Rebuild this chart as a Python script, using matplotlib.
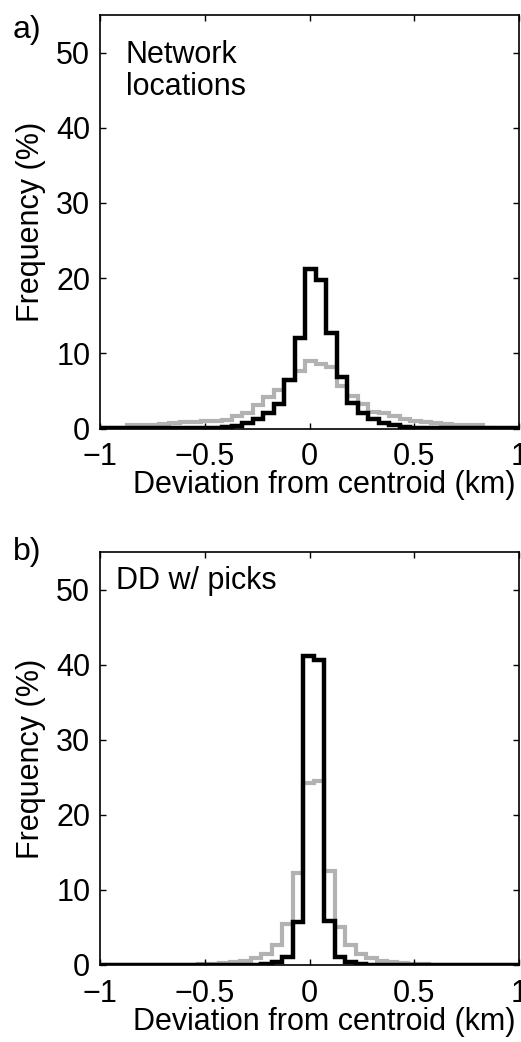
import numpy as np
import matplotlib
matplotlib.use("Agg")
import matplotlib.pyplot as plt

plt.rcParams['font.family'] = ['Liberation Sans', 'DejaVu Sans']

# ---- data ----
bin_width = 0.05
edges_a_start = -1.02
edges_b_start = -1.03

# Panel a: Network locations (41 bins)
net_dd = [0.02, 0.03, 0.03, 0.04, 0.05, 0.05, 0.06, 0.07, 0.08,
          0.09, 0.1, 0.1, 0.2, 0.35, 0.7, 1.2, 2.1, 3.3, 6.4,
          12.1, 21.2, 19.7, 12.7, 6.8, 3.4, 2.1, 1.3, 0.75, 0.4,
          0.2, 0.1, 0.06, 0.04, 0.03, 0.02, 0.02, 0.01, 0.01, 0.01, 0.01, 0.01]
net_cat = [0.05, 0.05, 0.1, 0.4, 0.45, 0.5, 0.6, 0.75, 0.85, 0.9,
           0.95, 1.0, 1.1, 1.6, 2.0, 3.1, 4.2, 5.1, 6.4, 7.7,
           9.0, 8.6, 8.2, 5.6, 4.3, 3.2, 2.2, 2.0, 1.7, 1.3,
           1.0, 0.85, 0.7, 0.55, 0.5, 0.45, 0.4, 0.05, 0.0, 0.0, 0.0]

# Panel b: DD w/ picks (41 bins)
dd_dd = [0.01, 0.01, 0.01, 0.01, 0.01, 0.01, 0.01, 0.01, 0.01, 0.01,
         0.01, 0.01, 0.02, 0.02, 0.03, 0.05, 0.15, 0.4, 1.1, 5.7,
         41.2, 40.6, 5.9, 1.1, 0.4, 0.15, 0.05, 0.03, 0.02, 0.02,
         0.01, 0.01, 0.01, 0.01, 0.01, 0.01, 0.01, 0.01, 0.01, 0.01, 0.01]
dd_cat = [0.0, 0.0, 0.0, 0.0, 0.0, 0.02, 0.03, 0.04, 0.05, 0.06,
          0.1, 0.15, 0.25, 0.35, 0.55, 0.9, 1.5, 2.7, 5.5, 12.3,
          24.2, 24.5, 12.5, 5.1, 2.6, 1.5, 0.9, 0.55, 0.35, 0.25,
          0.15, 0.1, 0.06, 0.05, 0.04, 0.03, 0.02, 0.0, 0.0, 0.0, 0.0]

panel_labels = ['a)', 'b)']
panel_texts = ['Network\nlocations', 'DD w/ picks']
x_ticks = [-1, -0.5, 0, 0.5, 1]
x_ticklabels = ['\u22121', '\u22120.5', '0', '0.5', '1']
y_ticks = [0, 10, 20, 30, 40, 50]
xlabel = 'Deviation from centroid (km)'
ylabel = 'Frequency (%)'

W, H = 521, 1042
fig = plt.figure(figsize=(W / 100, H / 100), dpi=100)

def fx(px):
    return px / W

def fy(py):
    return 1 - py / H

axes_px = [(100, 519, 15, 428.5), (100, 519, 552, 965)]
datasets = [(edges_a_start, net_cat, net_dd), (edges_b_start, dd_cat, dd_dd)]
text_pos = [(126, 40), (116, 566)]
lab_pos = [(27, 30), (27, 552)]

gray = '#b2b2b2'
fs = 22

for k in range(2):
    l, r, t, b = axes_px[k]
    ax = fig.add_axes([fx(l), fy(b), fx(r) - fx(l), fy(t) - fy(b)])
    start, cat, dd = datasets[k]
    n = len(cat)
    edges = start + bin_width * np.arange(n + 1)
    ax.stairs(cat, edges, color=gray, linewidth=3.0, baseline=0)
    ax.stairs(dd, edges, color='black', linewidth=3.2, baseline=0)
    ax.set_xlim(-1, 1)
    ax.set_ylim(0, 55)
    ax.set_xticks(x_ticks)
    ax.set_xticklabels(x_ticklabels)
    ax.set_yticks(y_ticks)
    ax.tick_params(direction='in', length=4, width=1, top=True, right=True,
                   labelsize=fs)
    ax.tick_params(axis='x', pad=10)
    ax.tick_params(axis='y', pad=7)
    for s in ax.spines.values():
        s.set_linewidth(1.2)
    ax.set_xlabel(xlabel, fontsize=fs, labelpad=-1.5)
    ax.xaxis.label.set_x(0.535)
    ax.set_ylabel(ylabel, fontsize=fs, labelpad=7.5)
    tx, ty = text_pos[k]
    fig.text(fx(tx), fy(ty), panel_texts[k], fontsize=fs, ha='left', va='top',
             linespacing=1.1)
    lx, ly = lab_pos[k]
    fig.text(fx(lx), fy(ly), panel_labels[k], fontsize=23, ha='center', va='center')

fig.savefig('out.png', dpi=100)
